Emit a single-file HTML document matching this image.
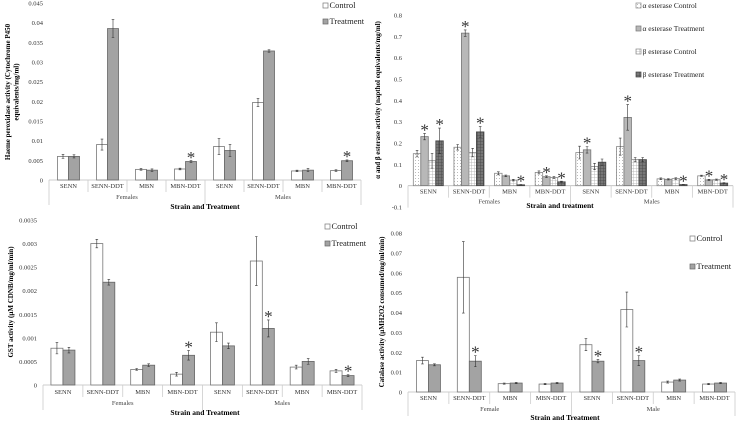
<!DOCTYPE html>
<html><head><meta charset="utf-8">
<style>
html,body{margin:0;padding:0;background:#fff;}
svg{display:block;font-family:"Liberation Serif",serif;}
</style></head>
<body>
<svg id="chart" width="737" height="421" viewBox="0 0 737 421" xmlns="http://www.w3.org/2000/svg">
<defs>
<pattern id="dots" width="3" height="3" patternUnits="userSpaceOnUse"><rect width="3" height="3" fill="#fff"/><rect x="1" y="1" width="1" height="1" fill="#bbb"/></pattern>
<pattern id="grid" width="3" height="3" patternUnits="userSpaceOnUse"><rect width="3" height="3" fill="#fff"/><path d="M0 0H3M0 0V3" stroke="#aaa" stroke-width="0.8"/></pattern>
<pattern id="darkgrid" width="3" height="3" patternUnits="userSpaceOnUse"><rect width="3" height="3" fill="#777"/><path d="M0 0H3M0 0V3" stroke="#444" stroke-width="0.8"/></pattern>
</defs>
</svg>
<script>
const categories = ["SENN","SENN-DDT","MBN","MBN-DDT","SENN","SENN-DDT","MBN","MBN-DDT"];
// Panel A: haeme peroxidase
const p450Control = [0.006,0.009,0.0027,0.0028,0.0085,0.0197,0.0023,0.0024];
const p450ControlErr = [0.0005,0.0014,0.0002,0.0002,0.002,0.001,0.0002,0.0002];
const p450Treatment = [0.006,0.0385,0.0025,0.0047,0.0075,0.0328,0.0025,0.0049];
const p450TreatmentErr = [0.0004,0.0023,0.0003,0.0002,0.0015,0.0003,0.0004,0.0002];
const p450Stars = [[],[],[],[1],[],[],[],[1]];
const p450Ticks = ["0","0.005","0.01","0.015","0.02","0.025","0.03","0.035","0.04","0.045"];
// Panel B: esterases
const alphaControl = [0.15,0.18,0.058,0.062,0.155,0.183,0.032,0.046];
const alphaControlErr = [0.015,0.013,0.007,0.007,0.03,0.04,0.004,0.003];
const alphaTreatment = [0.23,0.715,0.046,0.042,0.168,0.32,0.03,0.027];
const alphaTreatmentErr = [0.015,0.015,0.004,0.004,0.015,0.06,0.003,0.003];
const betaControl = [0.117,0.155,0.026,0.038,0.09,0.122,0.033,0.028];
const betaControlErr = [0.035,0.02,0.004,0.004,0.015,0.01,0.004,0.003];
const betaTreatment = [0.21,0.252,0.004,0.018,0.11,0.122,0.005,0.012];
const betaTreatmentErr = [0.06,0.025,0.001,0.003,0.015,0.01,0.001,0.002];
const estStars = [[1,3],[1,3],[3],[1,3],[1],[1],[3],[1,3]];
const estTicks = ["-0.1","0","0.1","0.2","0.3","0.4","0.5","0.6","0.7","0.8"];
// Panel C: GST
const gstControl = [0.00078,0.003,0.00033,0.00023,0.00112,0.00263,0.00038,0.0003];
const gstControlErr = [0.00012,0.00009,0.00002,0.00004,0.0002,0.00052,0.00004,0.00003];
const gstTreatment = [0.00074,0.00218,0.00042,0.00063,0.00083,0.0012,0.0005,0.0002];
const gstTreatmentErr = [0.00006,0.00006,0.00003,0.0001,0.00006,0.00018,0.00006,0.00002];
const gstStars = [[],[],[],[1],[],[1],[],[1]];
const gstTicks = ["0","0.0005","0.001","0.0015","0.002","0.0025","0.003","0.0035"];
// Panel D: catalase
const catControl = [0.0158,0.0577,0.0042,0.004,0.0238,0.0415,0.005,0.004];
const catControlErr = [0.0017,0.018,0.0003,0.0003,0.003,0.0088,0.0005,0.0003];
const catTreatment = [0.0137,0.0155,0.0045,0.0045,0.0155,0.0158,0.006,0.0045];
const catTreatmentErr = [0.0005,0.0028,0.0003,0.0003,0.0008,0.0025,0.0005,0.0003];
const catStars = [[],[1],[],[],[1],[1],[],[]];
const catTicks = ["0","0.01","0.02","0.03","0.04","0.05","0.06","0.07","0.08"];

const svg = document.getElementById('chart');
const NS = "http://www.w3.org/2000/svg";
function mk(tag, attrs, parent){
  const e = document.createElementNS(NS, tag);
  for (const k in attrs) e.setAttribute(k, attrs[k]);
  (parent||svg).appendChild(e);
  return e;
}
const styles = {
  control:{fill:"#fff",stroke:"#777"},
  treatment:{fill:"#a3a3a3",stroke:"#666"},
  aC:{fill:"url(#dots)",stroke:"#888"},
  aT:{fill:"#b8b8b8",stroke:"#777"},
  bC:{fill:"url(#grid)",stroke:"#888"},
  bT:{fill:"url(#darkgrid)",stroke:"#444"}
};

function panel(cfg){
  const g = mk('g',{});
  
  
  const ymin = parseFloat(cfg.ticks[0]), ymax = parseFloat(cfg.ticks[cfg.ticks.length-1]);
  const y = v => cfg.yBottom - (v - ymin)/(ymax - ymin)*(cfg.yBottom - cfg.yTop);
  const cw = (cfg.right - cfg.left)/categories.length;
  const x0 = y(0);
  cfg.ticks.forEach(t=>{
    const tl = mk('text',{x:cfg.left-6,y:y(parseFloat(t))+2.5,'font-size':6.5,'text-anchor':'end',fill:'#333'},g);
    
    
    tl.textContent = t;
  });
  const ax = mk('line',{x1:cfg.left,x2:cfg.right,y1:x0,y2:x0,stroke:'#bbb','stroke-width':0.8},g);
  
  
  for(let i=0;i<=categories.length;i++){
    const xx = cfg.left + i*cw;
    const long = (i%4===0);
    mk('line',{x1:xx,x2:xx,y1:x0,y2:x0+(long?cfg.sepLong:12),stroke:'#ccc','stroke-width':0.8},g);
  }
  categories.forEach((c,i)=>{
    const tl = mk('text',{x:cfg.left+(i+0.5)*cw,y:x0+cfg.tickDy,'font-size':6.5,'text-anchor':'middle',fill:'#333'},g);
    
    
    tl.textContent = c;
  });
  cfg.groups.forEach((gname,i)=>{
    const tl = mk('text',{x:cfg.left+(i*4+2)*cw,y:x0+cfg.groupDy,'font-size':6.5,'text-anchor':'middle',fill:'#444'},g);
    
    
    tl.textContent = gname;
  });
  const xt = mk('text',{x:cfg.xTitleX,y:cfg.xTitleY,'font-size':7.5,'font-weight':'bold','text-anchor':'middle'},g);
  
  
  xt.textContent = cfg.xTitle;
  const yt = mk('text',{transform:`translate(${cfg.yTitleX},${cfg.yTitleY}) rotate(-90)`,'font-size':7,'font-weight':'bold','text-anchor':'middle'},g);
  
  
  cfg.yTitle.forEach((line,k)=>{
    const ts = mk('tspan',{x:0,dy:k===0?0:8.5},yt);
    ts.textContent = line;
  });
  const n = cfg.series.length;
  const bw = cfg.barW;
  cfg.series.forEach((s,si)=>{
    s.values.forEach((v,i)=>{
      const cx = cfg.left + (i+0.5)*cw;
      const bx = cx - n*bw/2 + si*bw;
      const yt2 = y(v);
      const r = mk('rect',{x:bx,y:Math.min(yt2,x0),width:bw,height:Math.abs(x0-yt2),fill:styles[s.style].fill,stroke:styles[s.style].stroke,'stroke-width':0.8},g);
      
      
      const e = s.err[i];
      const mx = bx+bw/2;
      const eb = mk('path',{d:`M${mx} ${y(v+e)}V${y(v-e)}M${mx-1.3} ${y(v+e)}H${mx+1.3}M${mx-1.3} ${y(v-e)}H${mx+1.3}`,stroke:'#333','stroke-width':0.6,fill:'none'},g);
      
      
      if (cfg.stars[i].includes(si)){
        const fs = 17;
        const st = mk('text',{x:mx,y:y(v+e)-2+fs*0.24,'font-size':fs,'text-anchor':'middle',fill:'#333'},g);
        
        
        st.textContent = '*';
      }
    });
  });
  cfg.series.forEach((s,si)=>{
    const ly = cfg.legY + si*cfg.legGap;
    const lr = mk('rect',{x:cfg.legX,y:ly-5,width:5,height:5,fill:styles[s.style].fill,stroke:styles[s.style].stroke,'stroke-width':0.7},g);
    
    
    const lt = mk('text',{x:cfg.legX+6.5,y:ly,'font-size':cfg.legFont,fill:'#222'},g);
    
    
    lt.textContent = s.label;
  });
}

panel({name:'haeme-peroxidase-chart',left:49,right:361,yTop:3,yBottom:180,ticks:p450Ticks,
  groups:['Females','Males'],tickDy:8,groupDy:19,sepLong:25,xTitle:'Strain and Treatment',xTitleX:205,xTitleY:209,
  yTitle:['Haeme peroxidase activity (Cytochrome P450','equivalents/mg/ml)'],yTitleX:10,yTitleY:92,
  barW:11,stars:p450Stars,legX:323,legY:8,legGap:16,legFont:8.5,
  series:[{key:'control',label:'Control',style:'control',values:p450Control,err:p450ControlErr},
          {key:'treatment',label:'Treatment',style:'treatment',values:p450Treatment,err:p450TreatmentErr}]});

panel({name:'esterase-chart',left:408,right:733,yTop:15,yBottom:207,ticks:estTicks,
  groups:['Females','Males'],tickDy:8,groupDy:18,sepLong:22,xTitle:'Strain and treatment',xTitleX:560,xTitleY:208,
  yTitle:['α and β esterase activity (napthol equivalents/mg/ml)'],yTitleX:380,yTitleY:100,
  barW:7.5,stars:estStars,legX:636,legY:8,legGap:23,legFont:7.5,
  series:[{key:'alpha-control',label:'α esterase Control',style:'aC',values:alphaControl,err:alphaControlErr},
          {key:'alpha-treatment',label:'α esterase Treatment',style:'aT',values:alphaTreatment,err:alphaTreatmentErr},
          {key:'beta-control',label:'β esterase Control',style:'bC',values:betaControl,err:betaControlErr},
          {key:'beta-treatment',label:'β esterase Treatment',style:'bT',values:betaTreatment,err:betaTreatmentErr}]});

panel({name:'gst-chart',left:43,right:362,yTop:220,yBottom:385,ticks:gstTicks,
  groups:['Females','Males'],tickDy:9,groupDy:20,sepLong:25,xTitle:'Strain and Treatment',xTitleX:205,xTitleY:415,
  yTitle:['GST activity (µM CDNB/mg/ml/min)'],yTitleX:13,yTitleY:302,
  barW:12,stars:gstStars,legX:325,legY:229,legGap:17,legFont:8.5,
  series:[{key:'control',label:'Control',style:'control',values:gstControl,err:gstControlErr},
          {key:'treatment',label:'Treatment',style:'treatment',values:gstTreatment,err:gstTreatmentErr}]});

panel({name:'catalase-chart',left:408,right:735,yTop:233,yBottom:392,ticks:catTicks,
  groups:['Female','Male'],tickDy:8,groupDy:19,sepLong:24,xTitle:'Strain and Treatment',xTitleX:565,xTitleY:420,
  yTitle:['Catalase activity (µMH2O2 consumed/mg/ml/min)'],yTitleX:384,yTitleY:312,
  barW:12,stars:catStars,legX:690,legY:241,legGap:28,legFont:8.5,
  series:[{key:'control',label:'Control',style:'control',values:catControl,err:catControlErr},
          {key:'treatment',label:'Treatment',style:'treatment',values:catTreatment,err:catTreatmentErr}]});
</script>
</body></html>
